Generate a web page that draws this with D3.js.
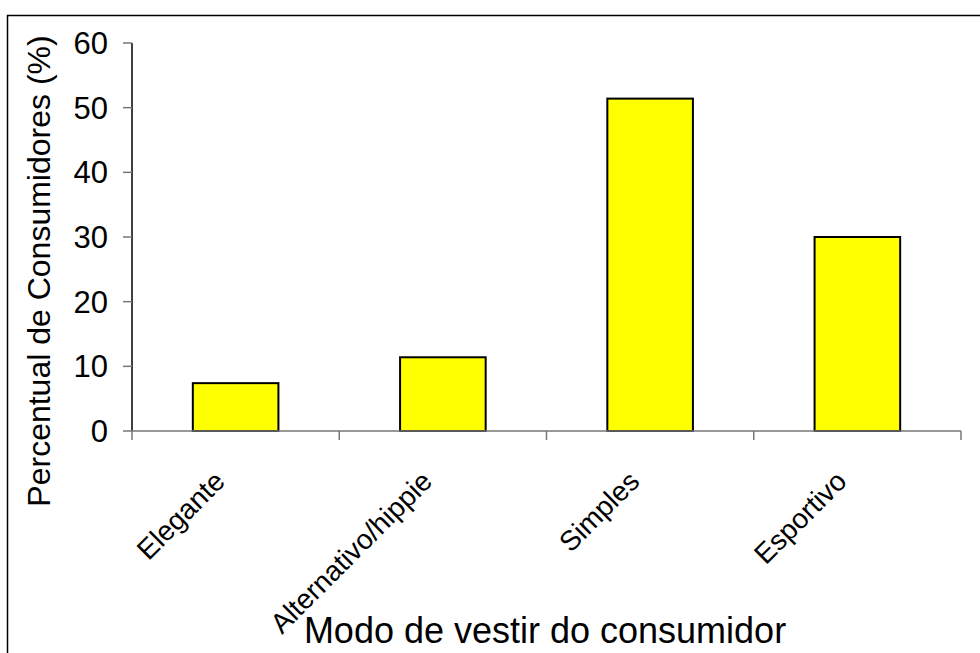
<!DOCTYPE html>
<html>
<head>
<meta charset="utf-8">
<script src="https://cdn.jsdelivr.net/npm/d3@7"></script>
<style>
  body { margin: 0; background: #fff; }
  text { font-family: "Liberation Sans", Arial, sans-serif; fill: #000; }
</style>
</head>
<body>
<svg id="chart" width="980" height="653"></svg>
<script>
// data
var categories = ["Elegante", "Alternativo/hippie", "Simples", "Esportivo"];
var values = [7.4, 11.4, 51.4, 30.0];
var yTicks = [0, 10, 20, 30, 40, 50, 60];

var svg = d3.select("#chart");
var plotLeft = 132, plotRight = 961, plotTop = 43, plotBottom = 431;

// outer frame
svg.append("rect")
  .attr("x", 7.5).attr("y", 15.5)
  .attr("width", 990).attr("height", 700)
  .attr("fill", "none")
  .attr("stroke", "#000")
  .attr("stroke-width", 1.5);

var x = d3.scaleBand()
  .domain(categories)
  .range([plotLeft, plotRight])
  .paddingInner(0.587)
  .paddingOuter(0.2935);

var y = d3.scaleLinear().domain([0, 60]).range([plotBottom, plotTop]);

// bars
svg.append("g")
  .selectAll("rect")
  .data(values)
  .enter()
  .append("rect")
  .attr("x", function (d, i) { return x(categories[i]); })
  .attr("y", function (d) { return y(d); })
  .attr("width", x.bandwidth())
  .attr("height", function (d) { return y(0) - y(d); })
  .attr("fill", "#ffff00")
  .attr("stroke", "#000")
  .attr("stroke-width", 2);

// y axis
var yAxis = svg.append("g").attr("transform", "translate(" + plotLeft + ",0)");
yAxis.append("line")
  .attr("x1", 0).attr("x2", 0)
  .attr("y1", plotTop).attr("y2", plotBottom)
  .attr("stroke", "#000").attr("stroke-width", 1.5);
yAxis.selectAll("line.tick")
  .data(yTicks)
  .enter()
  .append("line")
  .attr("class", "tick")
  .attr("x1", -9).attr("x2", 0)
  .attr("y1", function (d) { return y(d); })
  .attr("y2", function (d) { return y(d); })
  .attr("stroke", "#777").attr("stroke-width", 1.5);
yAxis.selectAll("text")
  .data(yTicks)
  .enter()
  .append("text")
  .attr("x", -24)
  .attr("y", function (d) { return y(d); })
  .attr("dy", "0.36em")
  .attr("text-anchor", "end")
  .style("font-size", "31px")
  .text(function (d) { return d; });

// x axis
var xAxis = svg.append("g").attr("transform", "translate(0," + plotBottom + ")");
xAxis.append("line")
  .attr("x1", plotLeft).attr("x2", plotRight)
  .attr("y1", 0).attr("y2", 0)
  .attr("stroke", "#777").attr("stroke-width", 1.5);
var step = x.step();
var boundaries = d3.range(categories.length + 1).map(function (i) { return plotLeft + i * step; });
xAxis.selectAll("line.tick")
  .data(boundaries)
  .enter()
  .append("line")
  .attr("class", "tick")
  .attr("x1", function (d) { return d; })
  .attr("x2", function (d) { return d; })
  .attr("y1", 0).attr("y2", 9)
  .attr("stroke", "#777").attr("stroke-width", 1.5);
xAxis.selectAll("text")
  .data(categories)
  .enter()
  .append("text")
  .attr("transform", function (d) {
    return "translate(" + (x(d) + x.bandwidth() / 2 - 9) + ",52) rotate(-45)";
  })
  .attr("text-anchor", "end")
  .style("font-size", "28px")
  .text(function (d) { return d; });

// axis titles
svg.append("text")
  .attr("transform", "translate(50,271) rotate(-90)")
  .attr("text-anchor", "middle")
  .style("font-size", "32px")
  .text("Percentual de Consumidores (%)");

svg.append("text")
  .attr("x", 545)
  .attr("y", 643)
  .attr("text-anchor", "middle")
  .style("font-size", "36px")
  .text("Modo de vestir do consumidor");
</script>
</body>
</html>
